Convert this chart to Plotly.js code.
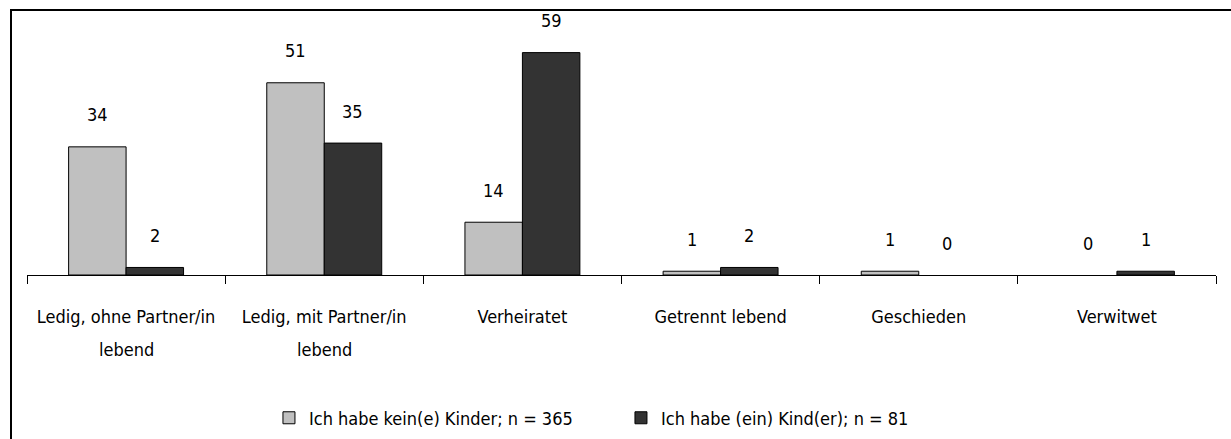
<!DOCTYPE html>
<html>
<head>
<meta charset="utf-8">
<script src="https://cdn.plot.ly/plotly-3.0.1.min.js"></script>
<style>
  html, body { margin:0; padding:0; background:#fff; }
  #chart { width:1231px; height:439px; }
  #frame { position:absolute; left:10px; top:9px; width:1221px; height:430px;
           border-top:2px solid #000; border-left:2px solid #000; box-sizing:border-box; pointer-events:none; }
</style>
</head>
<body>
<div id="chart"></div>
<div id="frame"></div>
<script>
const categories = ["Ledig, ohne Partner/in", "Ledig, mit Partner/in", "Verheiratet", "Getrennt lebend", "Geschieden", "Verwitwet"];
const secondLines = ["lebend", "lebend", "", "", "", ""];
const seriesNames = ["Ich habe kein(e) Kinder; n = 365", "Ich habe (ein) Kind(er); n = 81"];
const noKids = [34, 51, 14, 1, 1, 0];
const withKids = [2, 35, 59, 2, 0, 1];
const seriesColors = ["#C0C0C0", "#333333"];

const FONT = '"Liberation Sans Narrow", "Arial Narrow", "DejaVu Sans Condensed", sans-serif';

const traces = [noKids, withKids].map((vals, i) => ({
  type: 'bar',
  name: seriesNames[i],
  x: categories,
  y: vals,
  marker: { color: seriesColors[i], line: { color: '#000', width: vals.map(v => v === 0 ? 0 : 1) } },
  hoverinfo: 'skip'
}));

const annotations = [];
[noKids, withKids].forEach((vals, i) => {
  vals.forEach((v, j) => {
    annotations.push({
      x: categories[j], y: v, xref: 'x', yref: 'y',
      text: String(v), showarrow: false,
      xshift: (i === 0 ? -28.7 : 28.7), yshift: 32,
      yanchor: 'middle', xanchor: 'center',
      font: { family: FONT, size: 18, color: '#000' }
    });
  });
});
secondLines.forEach((t, j) => {
  if (!t) return;
  annotations.push({
    x: categories[j], y: 0, xref: 'x', yref: 'y',
    text: t, showarrow: false, yshift: -74,
    yanchor: 'middle', xanchor: 'center',
    font: { family: FONT, size: 18, color: '#000' }
  });
});

const layout = {
  width: 1231, height: 439,
  margin: { l: 27, r: 15, t: 30, b: 164, autoexpand: false },
  paper_bgcolor: '#fff', plot_bgcolor: '#fff',
  barmode: 'group', bargap: 0.42, bargroupgap: 0,
  font: { family: FONT, size: 18, color: '#000' },
  showlegend: true,
  legend: {
    orientation: 'h', x: 0.2035, xanchor: 'left', y: -0.584, yanchor: 'middle',
    entrywidth: 307, entrywidthmode: 'pixels',
    font: { family: FONT, size: 18, color: '#000' },
    traceorder: 'normal', itemclick: false, itemdoubleclick: false
  },
  xaxis: {
    type: 'category', automargin: false,
    showline: true, linecolor: '#000', linewidth: 1,
    ticks: 'outside', tickson: 'boundaries', ticklen: 8, tickcolor: '#000', tickwidth: 1,
    ticklabelstandoff: 25,
    tickfont: { family: FONT, size: 18, color: '#000' },
    showgrid: false, zeroline: false, fixedrange: true
  },
  yaxis: {
    range: [0, 65], visible: false, automargin: false, showgrid: false, zeroline: false, fixedrange: true
  },
  annotations: annotations
};

Plotly.newPlot('chart', traces, layout, { displayModeBar: false, staticPlot: true });
</script>
</body>
</html>
